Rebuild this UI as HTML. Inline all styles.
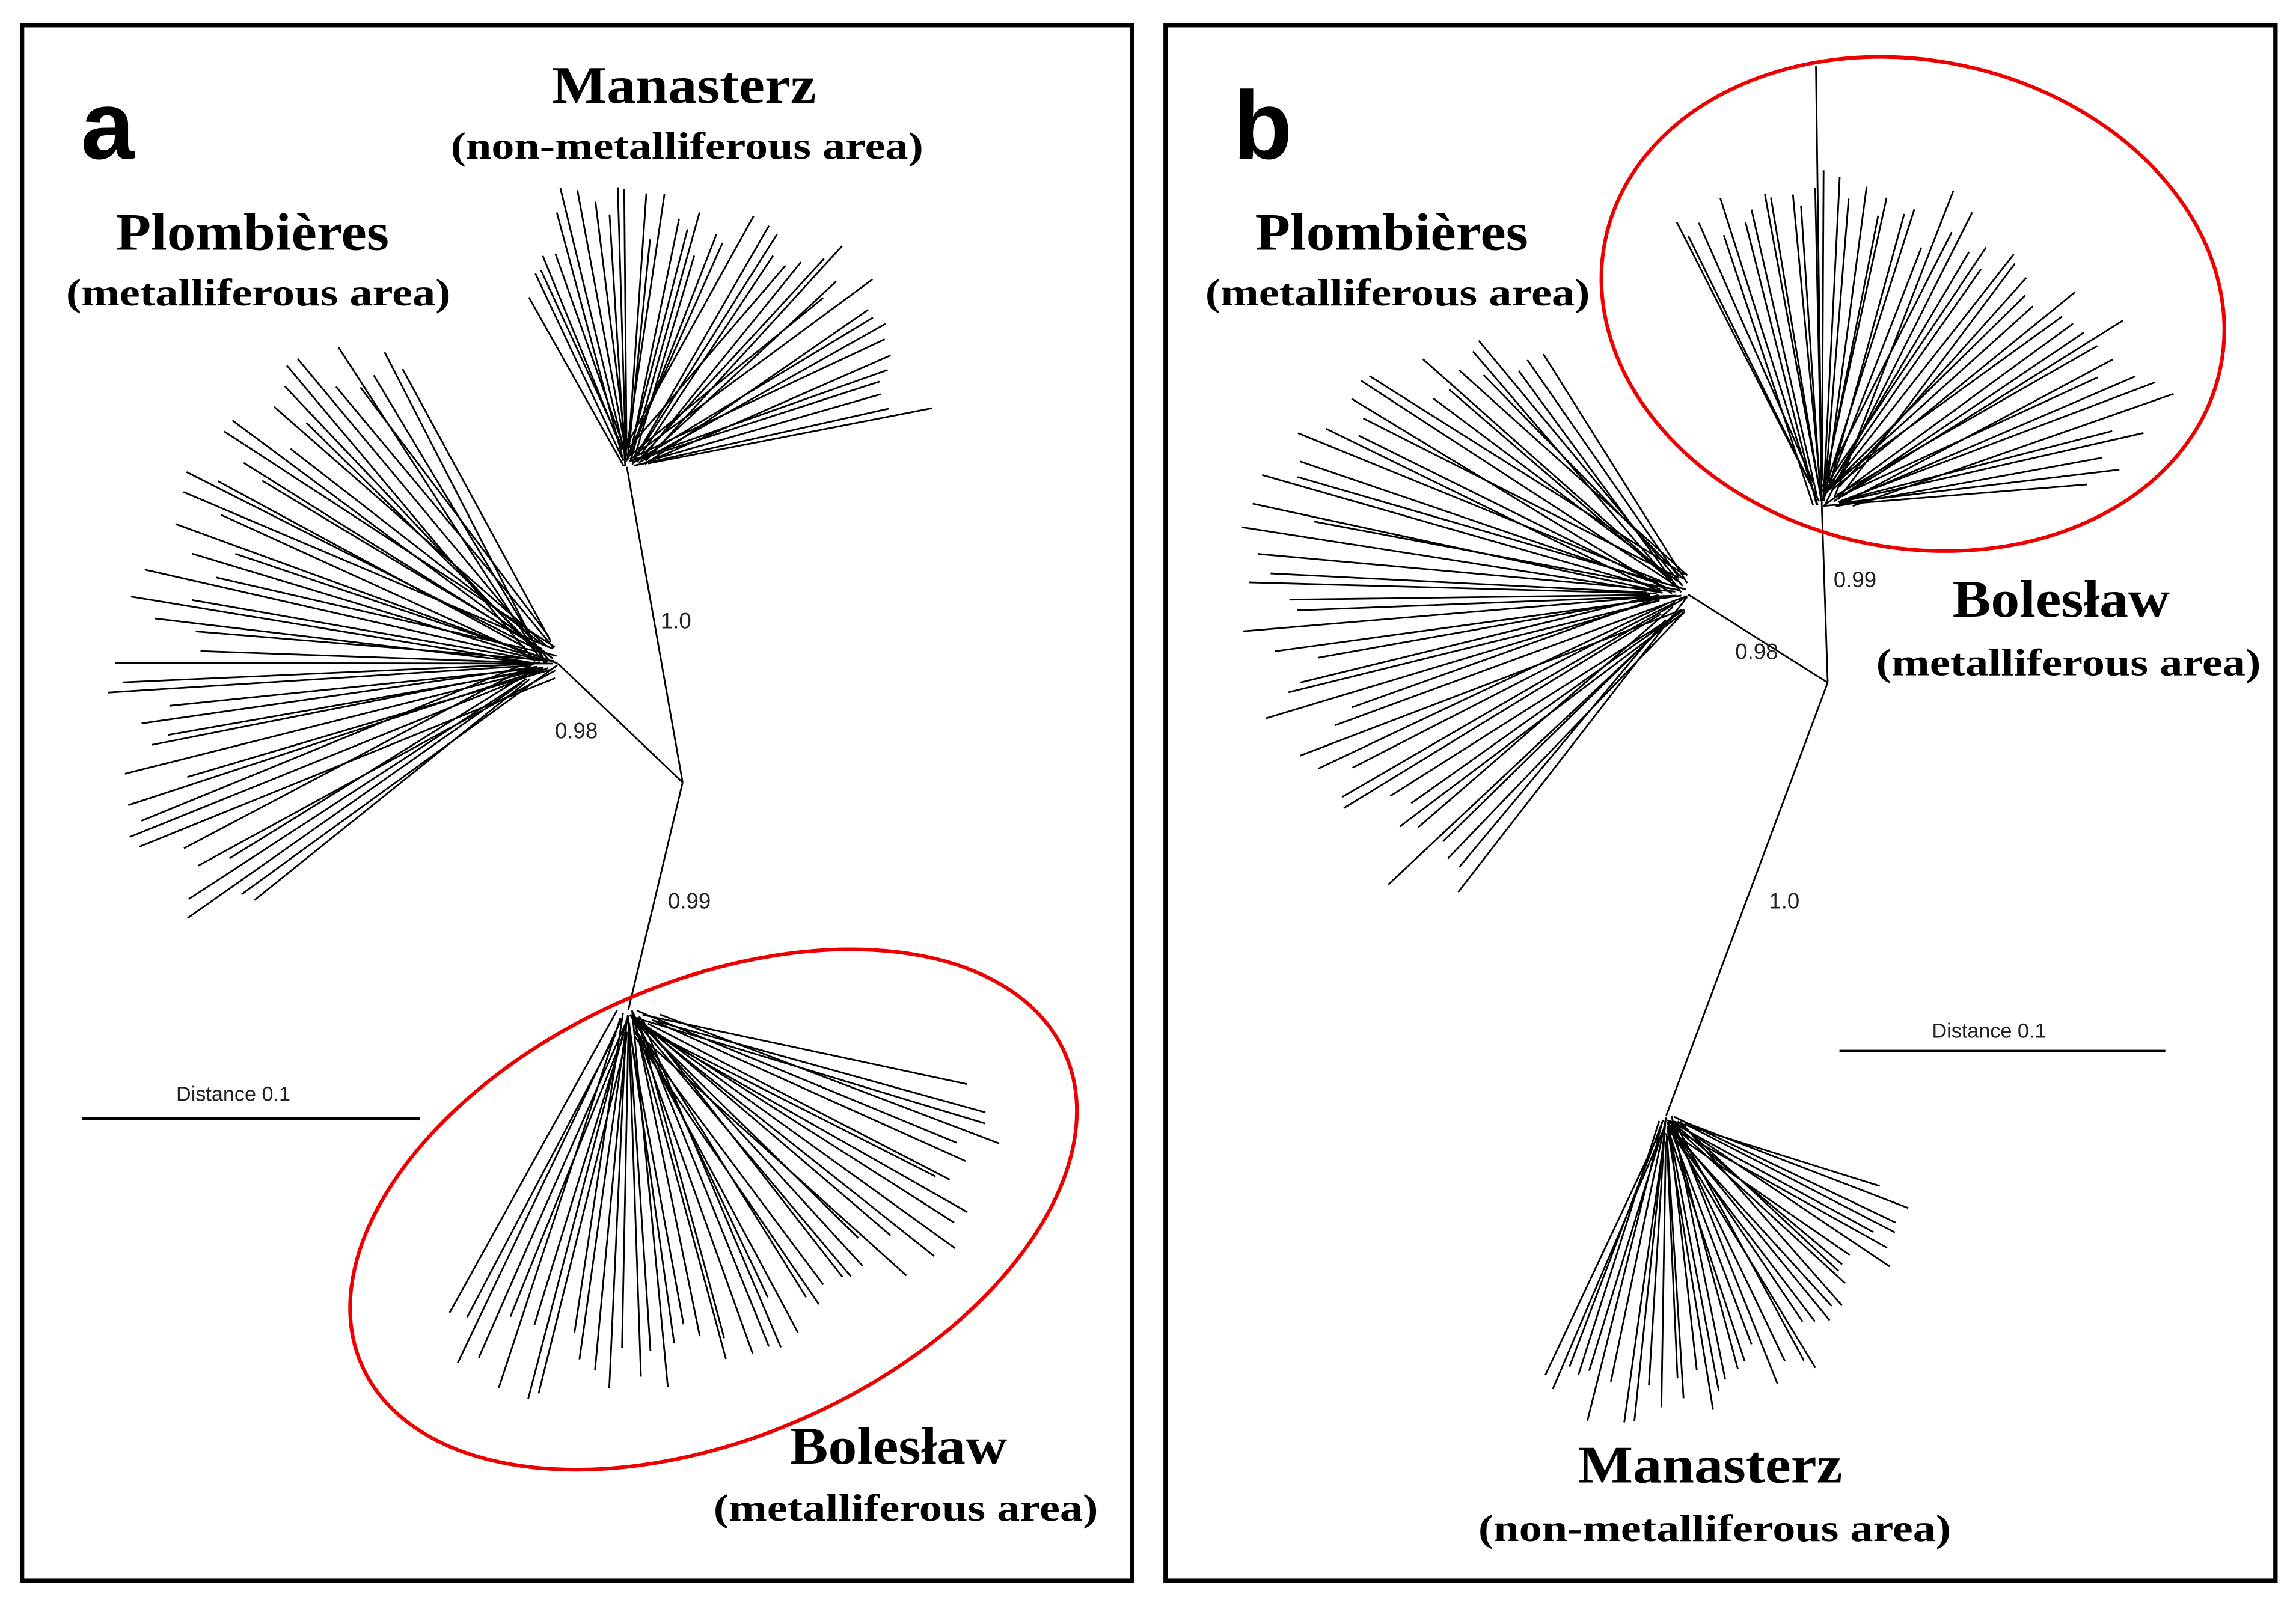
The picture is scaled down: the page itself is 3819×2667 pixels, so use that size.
<!DOCTYPE html>
<html><head><meta charset="utf-8">
<style>
html,body{margin:0;padding:0;background:#fff;}
svg{display:block;}
.ser{font-family:"Liberation Serif",serif;font-weight:bold;}
.san{font-family:"Liberation Sans",sans-serif;}
</style></head>
<body>
<svg id="s" xmlns="http://www.w3.org/2000/svg" width="3819" height="2667" viewBox="0 0 1564 1092">
<rect x="0" y="0" width="1564" height="1092" fill="#fff"/>
<rect x="15" y="17" width="756" height="1060" fill="none" stroke="#000" stroke-width="3"/>
<rect x="794" y="17" width="756" height="1060" fill="none" stroke="#000" stroke-width="3"/>
<g id="tr" stroke="#000" stroke-width="1.15" fill="none">
<line x1="427" y1="318" x2="465" y2="533"/>
<line x1="380" y1="452" x2="465" y2="533"/>
<line x1="465" y1="533" x2="428" y2="688"/>
<line x1="1241" y1="345" x2="1245" y2="465"/>
<line x1="1150" y1="405" x2="1245" y2="465"/>
<line x1="1245" y1="465" x2="1135" y2="760"/>
<line x1="1241" y1="345" x2="1237" y2="45"/>
</g>
<ellipse cx="486" cy="824" rx="262" ry="155" transform="rotate(-24 486 824)" fill="none" stroke="#e00" stroke-width="2.5"/>
<ellipse cx="1303" cy="207" rx="214" ry="166" transform="rotate(12 1303 207)" fill="none" stroke="#e00" stroke-width="2.5"/>
<text x="55" y="108" class="san" font-weight="bold" font-size="66">a</text>
<text x="840" y="108" class="san" font-weight="bold" font-size="66">b</text>
<g class="ser" text-anchor="middle">
<text x="466" y="70" font-size="36" textLength="180" lengthAdjust="spacingAndGlyphs">Manasterz</text>
<text x="468" y="108" font-size="26" textLength="322" lengthAdjust="spacingAndGlyphs">(non-metalliferous area)</text>
<text x="172" y="170" font-size="36" textLength="186" lengthAdjust="spacingAndGlyphs">Plombières</text>
<text x="176" y="208" font-size="26" textLength="262" lengthAdjust="spacingAndGlyphs">(metalliferous area)</text>
<text x="612" y="997" font-size="36" textLength="148" lengthAdjust="spacingAndGlyphs">Bolesław</text>
<text x="617" y="1036" font-size="26" textLength="262" lengthAdjust="spacingAndGlyphs">(metalliferous area)</text>
<text x="948" y="170" font-size="36" textLength="186" lengthAdjust="spacingAndGlyphs">Plombières</text>
<text x="952" y="208" font-size="26" textLength="262" lengthAdjust="spacingAndGlyphs">(metalliferous area)</text>
<text x="1404" y="420" font-size="36" textLength="148" lengthAdjust="spacingAndGlyphs">Bolesław</text>
<text x="1409" y="460" font-size="26" textLength="262" lengthAdjust="spacingAndGlyphs">(metalliferous area)</text>
<text x="1165" y="1010" font-size="36" textLength="180" lengthAdjust="spacingAndGlyphs">Manasterz</text>
<text x="1168" y="1050" font-size="26" textLength="322" lengthAdjust="spacingAndGlyphs">(non-metalliferous area)</text>
</g>
<g class="san" font-size="15" fill="#222">
<text x="450" y="428">1.0</text>
<text x="378" y="503">0.98</text>
<text x="455" y="619">0.99</text>
<text x="1249" y="400">0.99</text>
<text x="1182" y="449">0.98</text>
<text x="1205" y="619">1.0</text>
<text x="120" y="750" font-size="14">Distance 0.1</text>
<text x="1316" y="707" font-size="14">Distance 0.1</text>
</g>
<line x1="56" y1="762" x2="286" y2="762" stroke="#000" stroke-width="1.8"/>
<line x1="1253" y1="716" x2="1475" y2="716" stroke="#000" stroke-width="1.6"/>
</svg>
<script>
(function(){
var seed=11;function r(){seed=(seed*16807)%2147483647;return (seed-1)/2147483646;}
var g=document.getElementById('tr');
function lenAt(pts,a){
 for(var i=0;i<pts.length-1;i++){
  var p=pts[i],q=pts[i+1];
  var lo=Math.min(p[0],q[0]),hi=Math.max(p[0],q[0]);
  if(a>=lo&&a<=hi){var t=(a-p[0])/(q[0]-p[0]);return p[1]+(q[1]-p[1])*t;}
 }
 return pts[0][1];
}
function fan(ox,oy,pts,n){
 var a0=pts[0][0],a1=pts[pts.length-1][0];
 for(var i=0;i<n;i++){
  var ad=a0+(a1-a0)*(i+r()*0.9)/n;
  var a=ad*Math.PI/180;
  var L=lenAt(pts,ad)*(0.8+0.2*r());
  var sx=ox+Math.cos(a)*L*0.1*r(), sy=oy+Math.sin(a)*L*0.1*r();
  var e=document.createElementNS('http://www.w3.org/2000/svg','line');
  e.setAttribute('x1',sx.toFixed(1));e.setAttribute('y1',sy.toFixed(1));
  e.setAttribute('x2',(ox+Math.cos(a)*L).toFixed(1));e.setAttribute('y2',(oy+Math.sin(a)*L).toFixed(1));
  g.appendChild(e);
 }
}
fan(427,318,[[-120,150],[-103,205],[-70,185],[-45,220],[-9,215]],42);
fan(380,452,[[-117,250],[-140,290],[-164,290],[-196,320],[-220,320]],50);
fan(428,688,[[122,280],[90,270],[60,250],[41,275],[16,295],[12,295]],48);
fan(1241,345,[[-119,235],[-90,230],[-40,240],[-18,262],[-4,215]],48);
fan(1150,405,[[-121,215],[-150,280],[-173,320],[-200,300],[-234,285]],50);
fan(1135,760,[[117,223],[95,215],[60,200],[30,185],[18,180]],40);
})();
</script>
</body></html>
